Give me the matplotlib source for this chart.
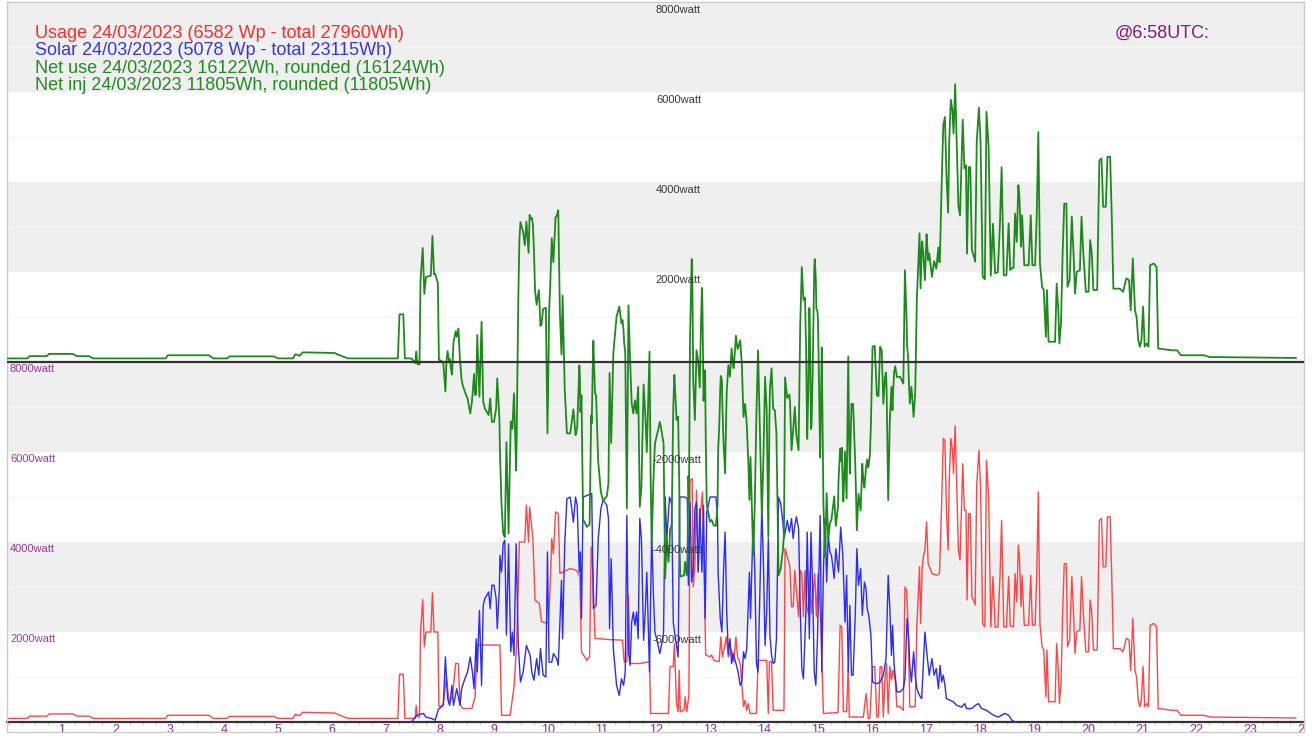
import numpy as np
import matplotlib
matplotlib.use("Agg")
import matplotlib.pyplot as plt
from matplotlib import transforms
from matplotlib.ticker import FixedLocator, MultipleLocator

plt.rcParams['font.family'] = ['Liberation Sans', 'DejaVu Sans']

# ---------------- data (hours of day, watt) ----------------
usage_h = [0.0, 0.36, 0.40, 0.72, 0.76, 1.20, 1.28, 1.50, 1.58, 2.92, 2.96, 3.72, 3.80, 4.06, 4.10, 4.92, 5.00, 5.28, 5.32, 5.40,
           5.46, 6.05, 6.12, 6.30, 7.22, 7.25, 7.32, 7.35, 7.54, 7.56, 7.58, 7.62, 7.64, 7.68, 7.71, 7.74, 7.83, 7.86, 7.89, 7.96,
           7.98, 8.06, 8.12, 8.17, 8.23, 8.29, 8.34, 8.37, 8.42, 8.59, 8.65, 8.69, 9.11, 9.14, 9.30, 9.37, 9.42, 9.47, 9.57, 9.60,
           9.64, 9.66, 9.72, 9.76, 9.84, 9.88, 10.01, 10.04, 10.07, 10.10, 10.14, 10.19, 10.22, 10.41, 10.53, 10.59, 10.62, 10.72, 10.77, 10.80,
           10.83, 10.87, 11.15, 11.38, 11.41, 11.46, 11.49, 11.52, 11.70, 11.88, 11.90, 12.23, 12.26, 12.32, 12.34, 12.38, 12.41, 12.43, 12.45, 12.52,
           12.54, 12.57, 12.61, 12.63, 12.67, 12.69, 12.72, 12.75, 12.78, 12.83, 12.86, 12.89, 12.92, 13.00, 13.03, 13.07, 13.17, 13.20, 13.23, 13.27,
           13.30, 13.34, 13.40, 13.44, 13.48, 13.51, 13.56, 13.59, 13.62, 13.65, 13.68, 13.71, 13.74, 13.86, 13.89, 14.05, 14.08, 14.10, 14.14, 14.17,
           14.37, 14.39, 14.48, 14.51, 14.54, 14.57, 14.64, 14.67, 14.70, 14.73, 14.76, 14.79, 14.82, 14.85, 14.88, 14.94, 14.97, 15.00, 15.05, 15.10,
           15.37, 15.41, 15.44, 15.47, 15.53, 15.56, 15.58, 15.84, 15.89, 15.93, 15.96, 16.01, 16.05, 16.09, 16.12, 16.15, 16.18, 16.21, 16.24, 16.27,
           16.30, 16.33, 16.36, 16.39, 16.43, 16.46, 16.52, 16.58, 16.61, 16.64, 16.67, 16.70, 16.80, 16.83, 16.88, 16.90, 16.93, 16.95, 16.98, 17.01,
           17.04, 17.11, 17.20, 17.25, 17.29, 17.32, 17.35, 17.38, 17.41, 17.43, 17.46, 17.49, 17.51, 17.54, 17.57, 17.60, 17.63, 17.68, 17.71, 17.74,
           17.76, 17.79, 17.82, 17.85, 17.88, 17.91, 17.94, 17.98, 18.01, 18.05, 18.09, 18.12, 18.16, 18.20, 18.24, 18.28, 18.33, 18.37, 18.40, 18.44,
           18.49, 18.53, 18.56, 18.62, 18.65, 18.68, 18.71, 18.73, 18.76, 18.78, 18.82, 18.90, 18.94, 18.97, 19.02, 19.05, 19.08, 19.11, 19.15, 19.18,
           19.22, 19.24, 19.27, 19.39, 19.42, 19.45, 19.47, 19.50, 19.53, 19.56, 19.60, 19.62, 19.66, 19.70, 19.73, 19.76, 19.79, 19.85, 19.88, 19.91,
           19.96, 20.01, 20.04, 20.07, 20.10, 20.17, 20.21, 20.25, 20.28, 20.33, 20.36, 20.41, 20.44, 20.47, 20.59, 20.65, 20.71, 20.76, 20.79, 20.83,
           20.87, 20.90, 20.93, 20.96, 20.99, 21.02, 21.05, 21.09, 21.12, 21.15, 21.22, 21.27, 21.30, 21.55, 21.65, 21.72, 22.15, 22.25, 23.85]
usage_w = [80, 80, 130, 130, 180, 180, 130, 130, 80, 80, 150, 150, 80, 80, 125, 125, 80, 80, 170, 140,
           215, 200, 160, 80, 80, 1060, 1060, 80, 80, 370, 110, 110, 2000, 2720, 1670, 2000, 2000, 2870, 2000, 2000,
           340, 370, 1000, 410, 560, 1300, 1300, 410, 300, 300, 560, 1710, 1710, 150, 150, 780, 1740, 4000, 4000, 4820,
           4000, 4780, 4080, 2710, 2630, 2230, 2190, 3000, 4080, 3740, 4670, 4630, 3300, 3410, 3370, 3230, 1560, 1370, 1450, 3890,
           3370, 1860, 1830, 1820, 1340, 1340, 2820, 1300, 1300, 1340, 190, 190, 1230, 1230, 1740, 410, 230, 1150, 230, 260,
           560, 230, 600, 5370, 5410, 3000, 3450, 5150, 3370, 4710, 5110, 3370, 1490, 1450, 1490, 1370, 1340, 1890, 1450, 1670,
           1890, 1450, 1600, 1340, 1890, 1450, 1300, 820, 340, 480, 260, 410, 190, 190, 1370, 1370, 190, 1340, 1340, 260,
           260, 3860, 3450, 2560, 2560, 3370, 2340, 3370, 3300, 2340, 3370, 2560, 2410, 3370, 2410, 3300, 2340, 3300, 2260, 190,
           210, 2150, 2110, 230, 230, 1230, 110, 110, 630, 80, 80, 1230, 1230, 110, 110, 1230, 1230, 110, 930, 1300,
           190, 1230, 930, 1150, 930, 340, 340, 260, 3000, 2930, 2110, 340, 340, 2110, 3450, 2190, 3450, 3670, 3820, 4450,
           3520, 3300, 3260, 3300, 4860, 6300, 6260, 4630, 3820, 5370, 6300, 6040, 5520, 6582, 5230, 3820, 3600, 5740, 4710, 4710,
           2710, 4630, 4630, 2780, 2710, 2600, 5300, 6040, 5230, 2190, 2110, 5820, 5000, 2110, 3230, 2110, 2110, 3230, 4480, 2110,
           2110, 3230, 2140, 2110, 3300, 2670, 3930, 3670, 2560, 3260, 2150, 2150, 3260, 2150, 2150, 3230, 5110, 2190, 1670, 1600,
           560, 1600, 450, 450, 1740, 1150, 410, 860, 2410, 3520, 3520, 1670, 1820, 3230, 2480, 1520, 2000, 2040, 3230, 2480,
           1560, 1560, 2710, 2410, 1600, 1600, 4480, 4520, 3450, 3450, 4560, 4560, 3230, 1630, 1630, 1560, 1860, 1820, 1150, 2300,
           1150, 1000, 490, 340, 490, 1230, 340, 410, 340, 2150, 2190, 2110, 300, 260, 260, 150, 150, 110, 90]

solar_h = [7.47, 7.57, 7.69, 7.74, 7.85, 7.91, 7.97, 8.06, 8.10, 8.14, 8.18, 8.22, 8.25, 8.31, 8.37, 8.40, 8.46, 8.51, 8.56, 8.60,
           8.63, 8.67, 8.69, 8.73, 8.77, 8.80, 8.83, 8.90, 8.93, 8.96, 9.00, 9.04, 9.06, 9.10, 9.11, 9.14, 9.17, 9.20, 9.23, 9.27,
           9.31, 9.34, 9.37, 9.41, 9.45, 9.49, 9.54, 9.60, 9.67, 9.70, 9.74, 9.79, 9.83, 9.86, 9.91, 9.96, 9.99, 10.02, 10.07, 10.10,
           10.16, 10.19, 10.25, 10.27, 10.31, 10.35, 10.41, 10.44, 10.47, 10.51, 10.54, 10.58, 10.60, 10.62, 10.65, 10.81, 10.84, 10.89, 10.93, 10.98,
           11.02, 11.09, 11.12, 11.14, 11.17, 11.21, 11.27, 11.32, 11.36, 11.40, 11.43, 11.46, 11.49, 11.52, 11.55, 11.58, 11.61, 11.64, 11.67, 11.70,
           11.73, 11.77, 11.80, 11.83, 11.88, 11.92, 11.95, 11.98, 12.04, 12.07, 12.10, 12.14, 12.17, 12.20, 12.25, 12.29, 12.32, 12.35, 12.38, 12.41,
           12.44, 12.54, 12.58, 12.60, 12.63, 12.66, 12.69, 12.72, 12.75, 12.78, 12.81, 12.85, 12.88, 12.91, 12.94, 12.97, 13.00, 13.11, 13.14, 13.15,
           13.19, 13.22, 13.25, 13.28, 13.31, 13.34, 13.37, 13.40, 13.43, 13.49, 13.52, 13.56, 13.59, 13.62, 13.65, 13.68, 13.73, 13.75, 13.80, 13.83,
           13.86, 13.89, 13.96, 13.99, 14.02, 14.05, 14.08, 14.11, 14.14, 14.17, 14.20, 14.23, 14.27, 14.31, 14.35, 14.37, 14.41, 14.43, 14.47, 14.51,
           14.54, 14.57, 14.60, 14.64, 14.67, 14.70, 14.73, 14.78, 14.80, 14.84, 14.87, 14.90, 14.93, 14.96, 14.99, 15.04, 15.07, 15.10, 15.13, 15.16,
           15.19, 15.22, 15.25, 15.30, 15.33, 15.38, 15.42, 15.46, 15.50, 15.53, 15.56, 15.59, 15.62, 15.65, 15.69, 15.72, 15.75, 15.79, 15.82, 15.86,
           15.89, 15.91, 15.94, 15.98, 16.01, 16.09, 16.15, 16.21, 16.26, 16.30, 16.33, 16.36, 16.38, 16.41, 16.46, 16.52, 16.58, 16.61, 16.65, 16.68,
           16.70, 16.73, 16.77, 16.80, 16.83, 16.88, 16.92, 16.98, 17.02, 17.06, 17.11, 17.15, 17.19, 17.23, 17.26, 17.29, 17.32, 17.35, 17.38, 17.51,
           17.57, 17.66, 17.72, 17.75, 17.85, 17.91, 17.97, 18.03, 18.12, 18.25, 18.34, 18.40, 18.46, 18.53, 18.59, 18.65]
solar_w = [0, 150, 190, 110, 75, 40, 280, 370, 1445, 520, 370, 815, 370, 740, 370, 740, 960, 1110, 1445, 1110,
           740, 1850, 1110, 2480, 815, 2590, 2740, 2890, 2520, 3040, 3040, 2740, 2075, 2960, 3700, 3330, 3960, 4040, 1930, 3960,
           1560, 2000, 1480, 3960, 1700, 890, 1110, 1700, 1480, 1110, 930, 1410, 1040, 1630, 1040, 1000, 3780, 1330, 1330, 1520,
           1410, 1260, 3150, 1850, 3960, 4960, 5000, 4740, 4440, 5000, 4815, 3330, 3780, 2300, 5000, 5078, 2520, 2590, 4075, 4740,
           4930, 4815, 4520, 2075, 3630, 1630, 815, 590, 960, 815, 1110, 4590, 1560, 1260, 2220, 2445, 2150, 2445, 1850, 4520,
           4075, 1815, 2445, 3330, 1110, 4260, 2890, 2000, 1700, 1520, 1700, 2000, 5000, 4075, 5000, 4850, 2220, 1930, 1700, 1445,
           5000, 5000, 4960, 3040, 4890, 3110, 3410, 4740, 4890, 3330, 4740, 3330, 4815, 2300, 4670, 4815, 5000, 5000, 4520, 3330,
           2300, 2000, 3330, 4220, 2445, 1520, 1850, 1300, 1520, 1260, 1110, 815, 890, 1560, 1410, 1630, 3330, 2300, 4480, 3330,
           1300, 1110, 4815, 3480, 1700, 2445, 4075, 1930, 1480, 1300, 1330, 1850, 5000, 4850, 4440, 4075, 4330, 4480, 4220, 4520,
           4075, 4370, 4560, 4300, 2590, 1190, 960, 2590, 4220, 1850, 4220, 3040, 1110, 815, 1850, 4590, 1110, 3330, 4520, 3110,
           4150, 3780, 3700, 3190, 3850, 3330, 4330, 3700, 2220, 3260, 1110, 2590, 1040, 1040, 2370, 3850, 3040, 3410, 2370, 3110,
           2960, 2520, 2370, 1930, 890, 850, 890, 1040, 1410, 3260, 2520, 1480, 2150, 1260, 670, 670, 740, 960, 2300, 1850,
           1260, 890, 1560, 1040, 740, 590, 520, 2000, 1480, 1040, 1410, 1040, 1190, 740, 1260, 890, 1040, 815, 520, 445,
           370, 330, 410, 300, 300, 370, 410, 300, 260, 150, 110, 150, 190, 150, 40, 0]

hour_ticks = list(range(1, 25))
lower_ticks = [2000, 4000, 6000, 8000]
net_ticks = [8000, 6000, 4000, 2000, -2000, -4000, -6000]
gray_bands = [2000, 6000, 10000, 14000]   # lower-axis units, each band 2000 high

legend_lines = [
    ("Usage 24/03/2023 (6582 Wp - total 27960Wh)", "#ff2a2a"),
    ("Solar 24/03/2023 (5078 Wp - total 23115Wh)", "#3535e6"),
    ("Net use 24/03/2023 16122Wh, rounded (16124Wh)", "#238b23"),
    ("Net inj 24/03/2023 11805Wh, rounded (11805Wh)", "#238b23"),
]
stamp_text = "@6:58UTC:"

# derived net = usage - solar on common time base
t_all = np.union1d(usage_h, solar_h)
net_w = np.interp(t_all, usage_h, usage_w) - np.interp(t_all, solar_h, solar_w, left=0, right=0)

# ---------------- figure ----------------
W, H = 1312, 738
fig = plt.figure(figsize=(W / 100, H / 100), dpi=100)
fig.patch.set_facecolor("white")
ax = fig.add_axes([7 / W, 6 / H, 1297 / W, 730 / H])
ax.set_xlim(-1 / 54, 24.0)
ax.set_ylim(-222, 16000)
axn = ax.twinx()
axn.set_ylim(-8222, 8000)

for lo in gray_bands:
    ax.axhspan(lo, lo + 2000, color="#efefef", lw=0, zorder=0)
for k in range(1, 16, 2):
    ax.axhline(k * 1000, color="#f6f6f6", lw=1.0, zorder=0.5)

ax.plot(usage_h, usage_w, color="#ff4545", lw=1.0, zorder=2)
ax.plot(solar_h, solar_w, color="#2c2cf5", lw=1.0, zorder=3)
axn.plot(t_all, net_w, color="#1e8a1e", lw=1.3, zorder=4)
axn.axhline(0, color="#333333", lw=1.6, zorder=5)

# spines / frame
for s in ["left", "right", "top"]:
    ax.spines[s].set_visible(False)
ax.spines["bottom"].set_position(("data", 0))
ax.spines["bottom"].set_color("#333333")
ax.spines["bottom"].set_linewidth(1.6)
for s in ["left", "right", "top", "bottom"]:
    axn.spines[s].set_color("#cccccc")
    axn.spines[s].set_linewidth(1.0)
axn.set_yticks([])
ax.set_yticks([])

ax.xaxis.set_major_locator(FixedLocator(hour_ticks))
ax.set_xticklabels([str(h) for h in hour_ticks])
ax.xaxis.set_minor_locator(MultipleLocator(0.25))
ax.tick_params(axis="x", which="major", length=0, pad=1.5, labelsize=9, labelcolor="#8a2e8a")
ax.tick_params(axis="x", which="minor", length=2.5, width=0.8, color="#cfcfcf")

# y labels
blend = transforms.blended_transform_factory(ax.transAxes, ax.transData)
for v in lower_ticks:
    ax.annotate(f"{v}watt", xy=(3 / 1297, v), xycoords=blend, xytext=(0, -1.5),
                textcoords="offset points", ha="left", va="top", fontsize=8, color="#9a3a9a", zorder=6)
for v in net_ticks:
    axn.annotate(f"{v}watt", xy=(693 / 54, v), xycoords="data", xytext=(0, -2),
                 textcoords="offset points", ha="right", va="top", fontsize=8, color="#3a3a3a", zorder=6)

# header texts
for i, (txt, col) in enumerate(legend_lines):
    fig.text(35 / W, 1 - (33 + 17.6 * i) / H, txt, color=col, fontsize=13, ha="left", va="center")
fig.text(1115 / W, 1 - 33 / H, stamp_text, color="#7a1f7a", fontsize=13, ha="left", va="center")

clip = transforms.Bbox.from_extents(0, 0, 1305, H)
for lbl in ax.get_xticklabels():
    if lbl.get_text() == "24":
        lbl.set_clip_on(True)
        lbl.set_clip_box(clip)

fig.savefig("out.png", dpi=100)
